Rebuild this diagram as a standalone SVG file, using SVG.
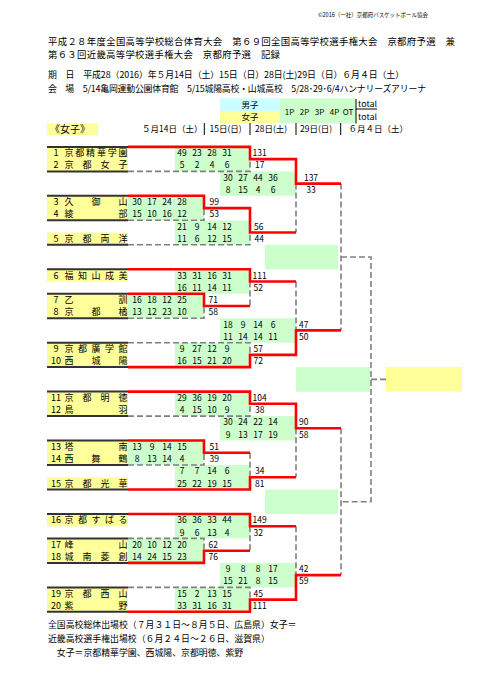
<svg xmlns="http://www.w3.org/2000/svg" width="481" height="680" viewBox="0 0 481 680">
<style>
text{font-family:"Noto Sans CJK JP","Noto Sans",sans-serif;fill:#000}
.y{fill:#ffff99}
.g{fill:#ccffcc}
.c{fill:#ccffff}
.tl{stroke:#333;stroke-width:2;fill:none}
.r{stroke:#ff0000;stroke-width:2.6;fill:none;stroke-linejoin:miter}
.d{stroke:#808080;stroke-width:1.6;fill:none;stroke-dasharray:6 3}
.bar{stroke:#000;stroke-width:1}
.nm{font-size:9px;text-anchor:middle}
.sc{font-size:8.5px;text-anchor:middle}
.tt{font-size:8.5px}
.hd{font-size:8.5px}
</style>
<rect width="481" height="680" fill="#fff"/>
<g id="header">
<text x="318" y="17.4" font-size="5.6" textLength="110" lengthAdjust="spacingAndGlyphs">©2016（一社）京都府バスケットボール協会</text>
<text x="48" y="44.5" font-size="9.4" textLength="407" lengthAdjust="spacing">平成２８年度全国高等学校総合体育大会　第６９回全国高等学校選手権大会　京都府予選　兼</text>
<text x="48" y="58.3" font-size="9.4" textLength="232" lengthAdjust="spacing">第６３回近畿高等学校選手権大会　京都府予選　記録</text>
<text x="48" y="78.3" font-size="8.9" textLength="356" lengthAdjust="spacing">期　日　平成28（2016）年５月14日（土）15日（日）28日(土)29日（日）６月４日（土）</text>
<text x="48" y="91.6" font-size="8.9" textLength="378" lengthAdjust="spacing">会　場　5/14亀岡運動公園体育館　5/15城陽高校・山城高校　5/28･29･6/4ハンナリーズアリーナ</text>
</g>
<g id="legend">
<rect class="c" x="220" y="98.3" width="60" height="12.7"/>
<rect class="y" x="220" y="111" width="60" height="12.5"/>
<rect class="g" x="280" y="98.3" width="76" height="25.2"/>
<text class="sc" x="250" y="107.7">男子</text>
<text class="sc" x="250" y="120">女子</text>
<text y="114.8" font-size="8" text-anchor="middle"><tspan x="289.5">1P</tspan><tspan x="304.5">2P</tspan><tspan x="319.5">3P</tspan><tspan x="334.5">4P</tspan><tspan x="348">OT</tspan></text>
<line class="bar" x1="356" y1="99" x2="356" y2="123.5"/>
<line class="bar" x1="356" y1="109" x2="377" y2="109"/>
<text x="358" y="106.5" font-size="8" textLength="19" lengthAdjust="spacingAndGlyphs">total</text>
<text x="358" y="119.7" font-size="8" textLength="19" lengthAdjust="spacingAndGlyphs">total</text>
</g>
<g id="dates">
<rect class="y" x="47" y="123.3" width="51" height="11.7"/>
<text x="50" y="133" font-size="10">《女子》</text>
<text class="hd" x="142" y="131.6">５月14日（土）</text>
<text class="hd" x="209.5" y="131.6">15日(日)</text>
<text class="hd" x="255" y="131.6">28日(土)</text>
<text class="hd" x="300" y="131.6">29日(日)</text>
<text class="hd" x="348.5" y="131.6">６月４日（土）</text>
<line class="bar" x1="204.3" y1="123" x2="204.3" y2="135"/>
<line class="bar" x1="250" y1="123" x2="250" y2="135"/>
<line class="bar" x1="296" y1="123" x2="296" y2="135"/>
<line class="bar" x1="340.7" y1="123" x2="340.7" y2="135"/>
</g>
<g id="teams">
<g id="team1"><rect class="y" x="47" y="146.9" width="81" height="12.3"/><path class="tl" d="M47,146.9H128"/><text class="nm" x="56" y="156.2">1</text><text class="nm" x="69 79.8 90.6 101.4 112.2 123" y="156.2">京都精華学園</text></g>
<g id="team2"><rect class="y" x="47" y="159.1" width="81" height="12.3"/><path class="tl" d="M47,171.4H128"/><text class="nm" x="56" y="168.4">2</text><text class="nm" x="69 87 105 123" y="168.4">京都女子</text></g>
<g id="team3"><rect class="y" x="47" y="195.8" width="81" height="12.3"/><path class="tl" d="M47,195.8H128"/><text class="nm" x="56" y="205.1">3</text><text class="nm" x="69 96 123" y="205.1">久御山</text></g>
<g id="team4"><rect class="y" x="47" y="208.1" width="81" height="12.3"/><path class="tl" d="M47,220.3H128"/><text class="nm" x="56" y="217.4">4</text><text class="nm" x="69 123" y="217.4">綾部</text></g>
<g id="team5"><rect class="y" x="47" y="232.5" width="81" height="12.3"/><path class="tl" d="M47,244.8H128"/><text class="nm" x="56" y="241.8">5</text><text class="nm" x="69 87 105 123" y="241.8">京都両洋</text></g>
<g id="team6"><rect class="y" x="47" y="269.3" width="81" height="12.3"/><path class="tl" d="M47,269.3H128"/><text class="nm" x="56" y="278.6">6</text><text class="nm" x="69 82.5 96 109.5 123" y="278.6">福知山成美</text></g>
<g id="team7"><rect class="y" x="47" y="293.7" width="81" height="12.3"/><path class="tl" d="M47,293.7H128"/><text class="nm" x="56" y="303">7</text><text class="nm" x="69 123" y="303">乙訓</text></g>
<g id="team8"><rect class="y" x="47" y="306" width="81" height="12.3"/><path class="tl" d="M47,318.2H128"/><text class="nm" x="56" y="315.3">8</text><text class="nm" x="69 96 123" y="315.3">京都橘</text></g>
<g id="team9"><rect class="y" x="47" y="342.7" width="81" height="12.3"/><path class="tl" d="M47,342.7H128"/><text class="nm" x="56" y="352">9</text><text class="nm" x="69 82.5 96 109.5 123" y="352">京都廣学館</text></g>
<g id="team10"><rect class="y" x="47" y="354.9" width="81" height="12.3"/><path class="tl" d="M47,367.1H128"/><text class="nm" x="56" y="364.2">10</text><text class="nm" x="69 96 123" y="364.2">西城陽</text></g>
<g id="team11"><rect class="y" x="47" y="391.6" width="81" height="12.3"/><path class="tl" d="M47,391.6H128"/><text class="nm" x="56" y="400.9">11</text><text class="nm" x="69 87 105 123" y="400.9">京都明徳</text></g>
<g id="team12"><rect class="y" x="47" y="403.8" width="81" height="12.3"/><path class="tl" d="M47,416.1H128"/><text class="nm" x="56" y="413.1">12</text><text class="nm" x="69 123" y="413.1">鳥羽</text></g>
<g id="team13"><rect class="y" x="47" y="440.5" width="81" height="12.3"/><path class="tl" d="M47,440.5H128"/><text class="nm" x="56" y="449.8">13</text><text class="nm" x="69 123" y="449.8">塔南</text></g>
<g id="team14"><rect class="y" x="47" y="452.8" width="81" height="12.3"/><path class="tl" d="M47,465H128"/><text class="nm" x="56" y="462.1">14</text><text class="nm" x="69 96 123" y="462.1">西舞鶴</text></g>
<g id="team15"><rect class="y" x="47" y="477.2" width="81" height="12.3"/><path class="tl" d="M47,489.5H128"/><text class="nm" x="56" y="486.5">15</text><text class="nm" x="69 87 105 123" y="486.5">京都光華</text></g>
<g id="team16"><rect class="y" x="47" y="514" width="81" height="12.3"/><path class="tl" d="M47,514H128"/><text class="nm" x="56" y="523.3">16</text><text class="nm" x="69 82.5 96 109.5 123" y="523.3">京都すばる</text></g>
<g id="team17"><rect class="y" x="47" y="538.4" width="81" height="12.3"/><path class="tl" d="M47,538.4H128"/><text class="nm" x="56" y="547.7">17</text><text class="nm" x="69 123" y="547.7">峰山</text></g>
<g id="team18"><rect class="y" x="47" y="550.7" width="81" height="12.3"/><path class="tl" d="M47,562.9H128"/><text class="nm" x="56" y="560">18</text><text class="nm" x="69 87 105 123" y="560">城南菱創</text></g>
<g id="team19"><rect class="y" x="47" y="587.4" width="81" height="12.3"/><path class="tl" d="M47,587.4H128"/><text class="nm" x="56" y="596.7">19</text><text class="nm" x="69 87 105 123" y="596.7">京都西山</text></g>
<g id="team20"><rect class="y" x="47" y="599.6" width="81" height="12.3"/><path class="tl" d="M47,611.8H128"/><text class="nm" x="56" y="608.9">20</text><text class="nm" x="69 123" y="608.9">紫野</text></g>
</g>
<g id="matches">
<g id="m1-2"><rect class="g" x="175" y="146.9" width="75" height="24.5"/>
<text class="sc" y="156.2"><tspan x="182">49</tspan><tspan x="197">23</tspan><tspan x="212">28</tspan><tspan x="227">31</tspan></text>
<text class="sc" y="168.4"><tspan x="182">5</tspan><tspan x="197">2</tspan><tspan x="212">4</tspan><tspan x="227">6</tspan></text>
<text class="tt" x="252.5" y="156.2">131</text><text class="tt" x="255" y="168.4">17</text></g>
<g id="mR3-1"><rect class="g" x="220" y="171.4" width="76" height="24.4"/>
<text class="sc" y="180.7"><tspan x="228">30</tspan><tspan x="243">27</tspan><tspan x="258">44</tspan><tspan x="273">36</tspan></text>
<text class="sc" y="192.9"><tspan x="228">8</tspan><tspan x="243">15</tspan><tspan x="258">4</tspan><tspan x="273">6</tspan></text>
<text class="tt" x="311" y="180.7" text-anchor="middle">137</text><text class="tt" x="311" y="192.9" text-anchor="middle">33</text></g>
<g id="m3-4"><rect class="g" x="128" y="195.8" width="76" height="24.5"/>
<text class="sc" y="205.1"><tspan x="137">30</tspan><tspan x="152">17</tspan><tspan x="167">24</tspan><tspan x="182">28</tspan></text>
<text class="sc" y="217.4"><tspan x="137">15</tspan><tspan x="152">10</tspan><tspan x="167">16</tspan><tspan x="182">12</tspan></text>
<text class="tt" x="209.5" y="205.1">99</text><text class="tt" x="209.5" y="217.4">53</text></g>
<g id="mW3-5"><rect class="g" x="175" y="220.3" width="75" height="24.5"/>
<text class="sc" y="229.6"><tspan x="182">21</tspan><tspan x="197">9</tspan><tspan x="212">14</tspan><tspan x="227">12</tspan></text>
<text class="sc" y="241.8"><tspan x="182">11</tspan><tspan x="197">6</tspan><tspan x="212">12</tspan><tspan x="227">15</tspan></text>
<text class="tt" x="254" y="229.6">56</text><text class="tt" x="254.5" y="241.8">44</text></g>
<g id="semi1"><rect class="g" x="265" y="244.8" width="73" height="24.5"/></g>
<g id="m6-W7"><rect class="g" x="175" y="269.3" width="75" height="24.4"/>
<text class="sc" y="278.6"><tspan x="182">33</tspan><tspan x="197">31</tspan><tspan x="212">16</tspan><tspan x="227">31</tspan></text>
<text class="sc" y="290.8"><tspan x="182">16</tspan><tspan x="197">11</tspan><tspan x="212">14</tspan><tspan x="227">11</tspan></text>
<text class="tt" x="252.5" y="278.6">111</text><text class="tt" x="253.5" y="290.8">52</text></g>
<g id="m7-8"><rect class="g" x="128" y="293.7" width="76" height="24.5"/>
<text class="sc" y="303"><tspan x="137">16</tspan><tspan x="152">18</tspan><tspan x="167">12</tspan><tspan x="182">25</tspan></text>
<text class="sc" y="315.3"><tspan x="137">13</tspan><tspan x="152">12</tspan><tspan x="167">23</tspan><tspan x="182">10</tspan></text>
<text class="tt" x="208.5" y="303">71</text><text class="tt" x="208.5" y="315.3">58</text></g>
<g id="mR3-2"><rect class="g" x="220" y="318.2" width="76" height="24.5"/>
<text class="sc" y="327.5"><tspan x="228">18</tspan><tspan x="243">9</tspan><tspan x="258">14</tspan><tspan x="273">6</tspan></text>
<text class="sc" y="339.7"><tspan x="228">11</tspan><tspan x="243">14</tspan><tspan x="258">14</tspan><tspan x="273">11</tspan></text>
<text class="tt" x="299" y="327.5">47</text><text class="tt" x="299" y="339.7">50</text></g>
<g id="m9-10"><rect class="g" x="175" y="342.7" width="75" height="24.4"/>
<text class="sc" y="352"><tspan x="182">9</tspan><tspan x="197">27</tspan><tspan x="212">12</tspan><tspan x="227">9</tspan></text>
<text class="sc" y="364.2"><tspan x="182">16</tspan><tspan x="197">15</tspan><tspan x="212">21</tspan><tspan x="227">20</tspan></text>
<text class="tt" x="253.5" y="352">57</text><text class="tt" x="253.5" y="364.2">72</text></g>
<g id="final"><rect class="g" x="296" y="367.1" width="74" height="24.5"/></g>
<g id="champion"><rect class="y" x="386" y="367.1" width="76" height="24.5"/></g>
<g id="m11-12"><rect class="g" x="175" y="391.6" width="75" height="24.5"/>
<text class="sc" y="400.9"><tspan x="182">29</tspan><tspan x="197">36</tspan><tspan x="212">19</tspan><tspan x="227">20</tspan></text>
<text class="sc" y="413.1"><tspan x="182">4</tspan><tspan x="197">15</tspan><tspan x="212">10</tspan><tspan x="227">9</tspan></text>
<text class="tt" x="252.5" y="400.9">104</text><text class="tt" x="255" y="413.1">38</text></g>
<g id="mR3-3"><rect class="g" x="220" y="416.1" width="76" height="24.4"/>
<text class="sc" y="425.4"><tspan x="228">30</tspan><tspan x="243">24</tspan><tspan x="258">22</tspan><tspan x="273">14</tspan></text>
<text class="sc" y="437.6"><tspan x="228">9</tspan><tspan x="243">13</tspan><tspan x="258">17</tspan><tspan x="273">19</tspan></text>
<text class="tt" x="299" y="425.4">90</text><text class="tt" x="299" y="437.6">58</text></g>
<g id="m13-14"><rect class="g" x="128" y="440.5" width="76" height="24.5"/>
<text class="sc" y="449.8"><tspan x="137">13</tspan><tspan x="152">9</tspan><tspan x="167">14</tspan><tspan x="182">15</tspan></text>
<text class="sc" y="462.1"><tspan x="137">8</tspan><tspan x="152">13</tspan><tspan x="167">14</tspan><tspan x="182">4</tspan></text>
<text class="tt" x="209.5" y="449.8">51</text><text class="tt" x="209.5" y="462.1">39</text></g>
<g id="mW13-15"><rect class="g" x="175" y="465" width="75" height="24.5"/>
<text class="sc" y="474.3"><tspan x="182">7</tspan><tspan x="197">7</tspan><tspan x="212">14</tspan><tspan x="227">6</tspan></text>
<text class="sc" y="486.5"><tspan x="182">25</tspan><tspan x="197">22</tspan><tspan x="212">19</tspan><tspan x="227">15</tspan></text>
<text class="tt" x="255" y="474.3">34</text><text class="tt" x="255" y="486.5">81</text></g>
<g id="semi2"><rect class="g" x="265" y="489.5" width="73" height="24.5"/></g>
<g id="m16-W17"><rect class="g" x="175" y="514" width="75" height="24.4"/>
<text class="sc" y="523.3"><tspan x="182">36</tspan><tspan x="197">36</tspan><tspan x="212">33</tspan><tspan x="227">44</tspan></text>
<text class="sc" y="535.5"><tspan x="182">9</tspan><tspan x="197">6</tspan><tspan x="212">13</tspan><tspan x="227">4</tspan></text>
<text class="tt" x="252.5" y="523.3">149</text><text class="tt" x="253.5" y="535.5">32</text></g>
<g id="m17-18"><rect class="g" x="128" y="538.4" width="76" height="24.5"/>
<text class="sc" y="547.7"><tspan x="137">20</tspan><tspan x="152">10</tspan><tspan x="167">12</tspan><tspan x="182">20</tspan></text>
<text class="sc" y="560"><tspan x="137">14</tspan><tspan x="152">24</tspan><tspan x="167">15</tspan><tspan x="182">23</tspan></text>
<text class="tt" x="208.5" y="547.7">62</text><text class="tt" x="208.5" y="560">76</text></g>
<g id="mR3-4"><rect class="g" x="220" y="562.9" width="76" height="24.5"/>
<text class="sc" y="572.2"><tspan x="228">9</tspan><tspan x="243">8</tspan><tspan x="258">8</tspan><tspan x="273">17</tspan></text>
<text class="sc" y="584.4"><tspan x="228">15</tspan><tspan x="243">21</tspan><tspan x="258">8</tspan><tspan x="273">15</tspan></text>
<text class="tt" x="299" y="572.2">42</text><text class="tt" x="299" y="584.4">59</text></g>
<g id="m19-20"><rect class="g" x="175" y="587.4" width="75" height="24.4"/>
<text class="sc" y="596.7"><tspan x="182">15</tspan><tspan x="197">2</tspan><tspan x="212">13</tspan><tspan x="227">15</tspan></text>
<text class="sc" y="608.9"><tspan x="182">33</tspan><tspan x="197">31</tspan><tspan x="212">16</tspan><tspan x="227">31</tspan></text>
<text class="tt" x="253.5" y="596.7">45</text><text class="tt" x="252.5" y="608.9">111</text></g>
</g>
<g id="connectors">
<path class="d" d="M128,171.4H250V159.1"/>
<path class="d" d="M128,220.3H204V208.1"/>
<path class="d" d="M128,244.8H250V232.5"/>
<path class="d" d="M296,183.6V232.5"/>
<path class="d" d="M341,183.6V330.4"/>
<path class="d" d="M128,318.2H204V306"/>
<path class="d" d="M250,281.5V306"/>
<path class="d" d="M296,281.5V330.4"/>
<path class="d" d="M128,342.7H250V354.9"/>
<path class="d" d="M128,416.1H250V403.8"/>
<path class="d" d="M128,465H204V452.8"/>
<path class="d" d="M250,452.8V477.2"/>
<path class="d" d="M296,428.3V477.2"/>
<path class="d" d="M341,428.3V575.1"/>
<path class="d" d="M128,538.4H204V550.7"/>
<path class="d" d="M250,526.2V550.7"/>
<path class="d" d="M296,526.2V575.1"/>
<path class="d" d="M128,587.4H250V599.6"/>
<path class="d" d="M341,257H371V501.7H341"/>
<path class="d" d="M371,379.4H386"/>
<path class="r" d="M128,146.9H250V159.1H296V183.6H341"/>
<path class="r" d="M128,195.8H204V208.1H250V232.5H296"/>
<path class="r" d="M128,293.7H204V306H250"/>
<path class="r" d="M128,269.3H250V281.5H296"/>
<path class="r" d="M128,367.1H250V354.9H296V330.4H341"/>
<path class="r" d="M128,391.6H250V403.8H296V428.3H341"/>
<path class="r" d="M128,440.5H204V452.8H250"/>
<path class="r" d="M128,489.5H250V477.2H296"/>
<path class="r" d="M128,514H250V526.2H296"/>
<path class="r" d="M128,562.9H204V550.7H250"/>
<path class="r" d="M128,611.8H250V599.6H296V575.1H341"/>
</g>
<g id="footer">
<text x="48" y="628.3" font-size="8.9">全国高校総体出場校（７月３１日～８月５日、広島県）女子＝</text>
<text x="48" y="642.3" font-size="8.9">近畿高校選手権出場校（６月２４日～２６日、滋賀県）</text>
<text x="48" y="655.6" font-size="8.9">　女子＝京都精華学園、西城陽、京都明徳、紫野</text>
</g>
</svg>
